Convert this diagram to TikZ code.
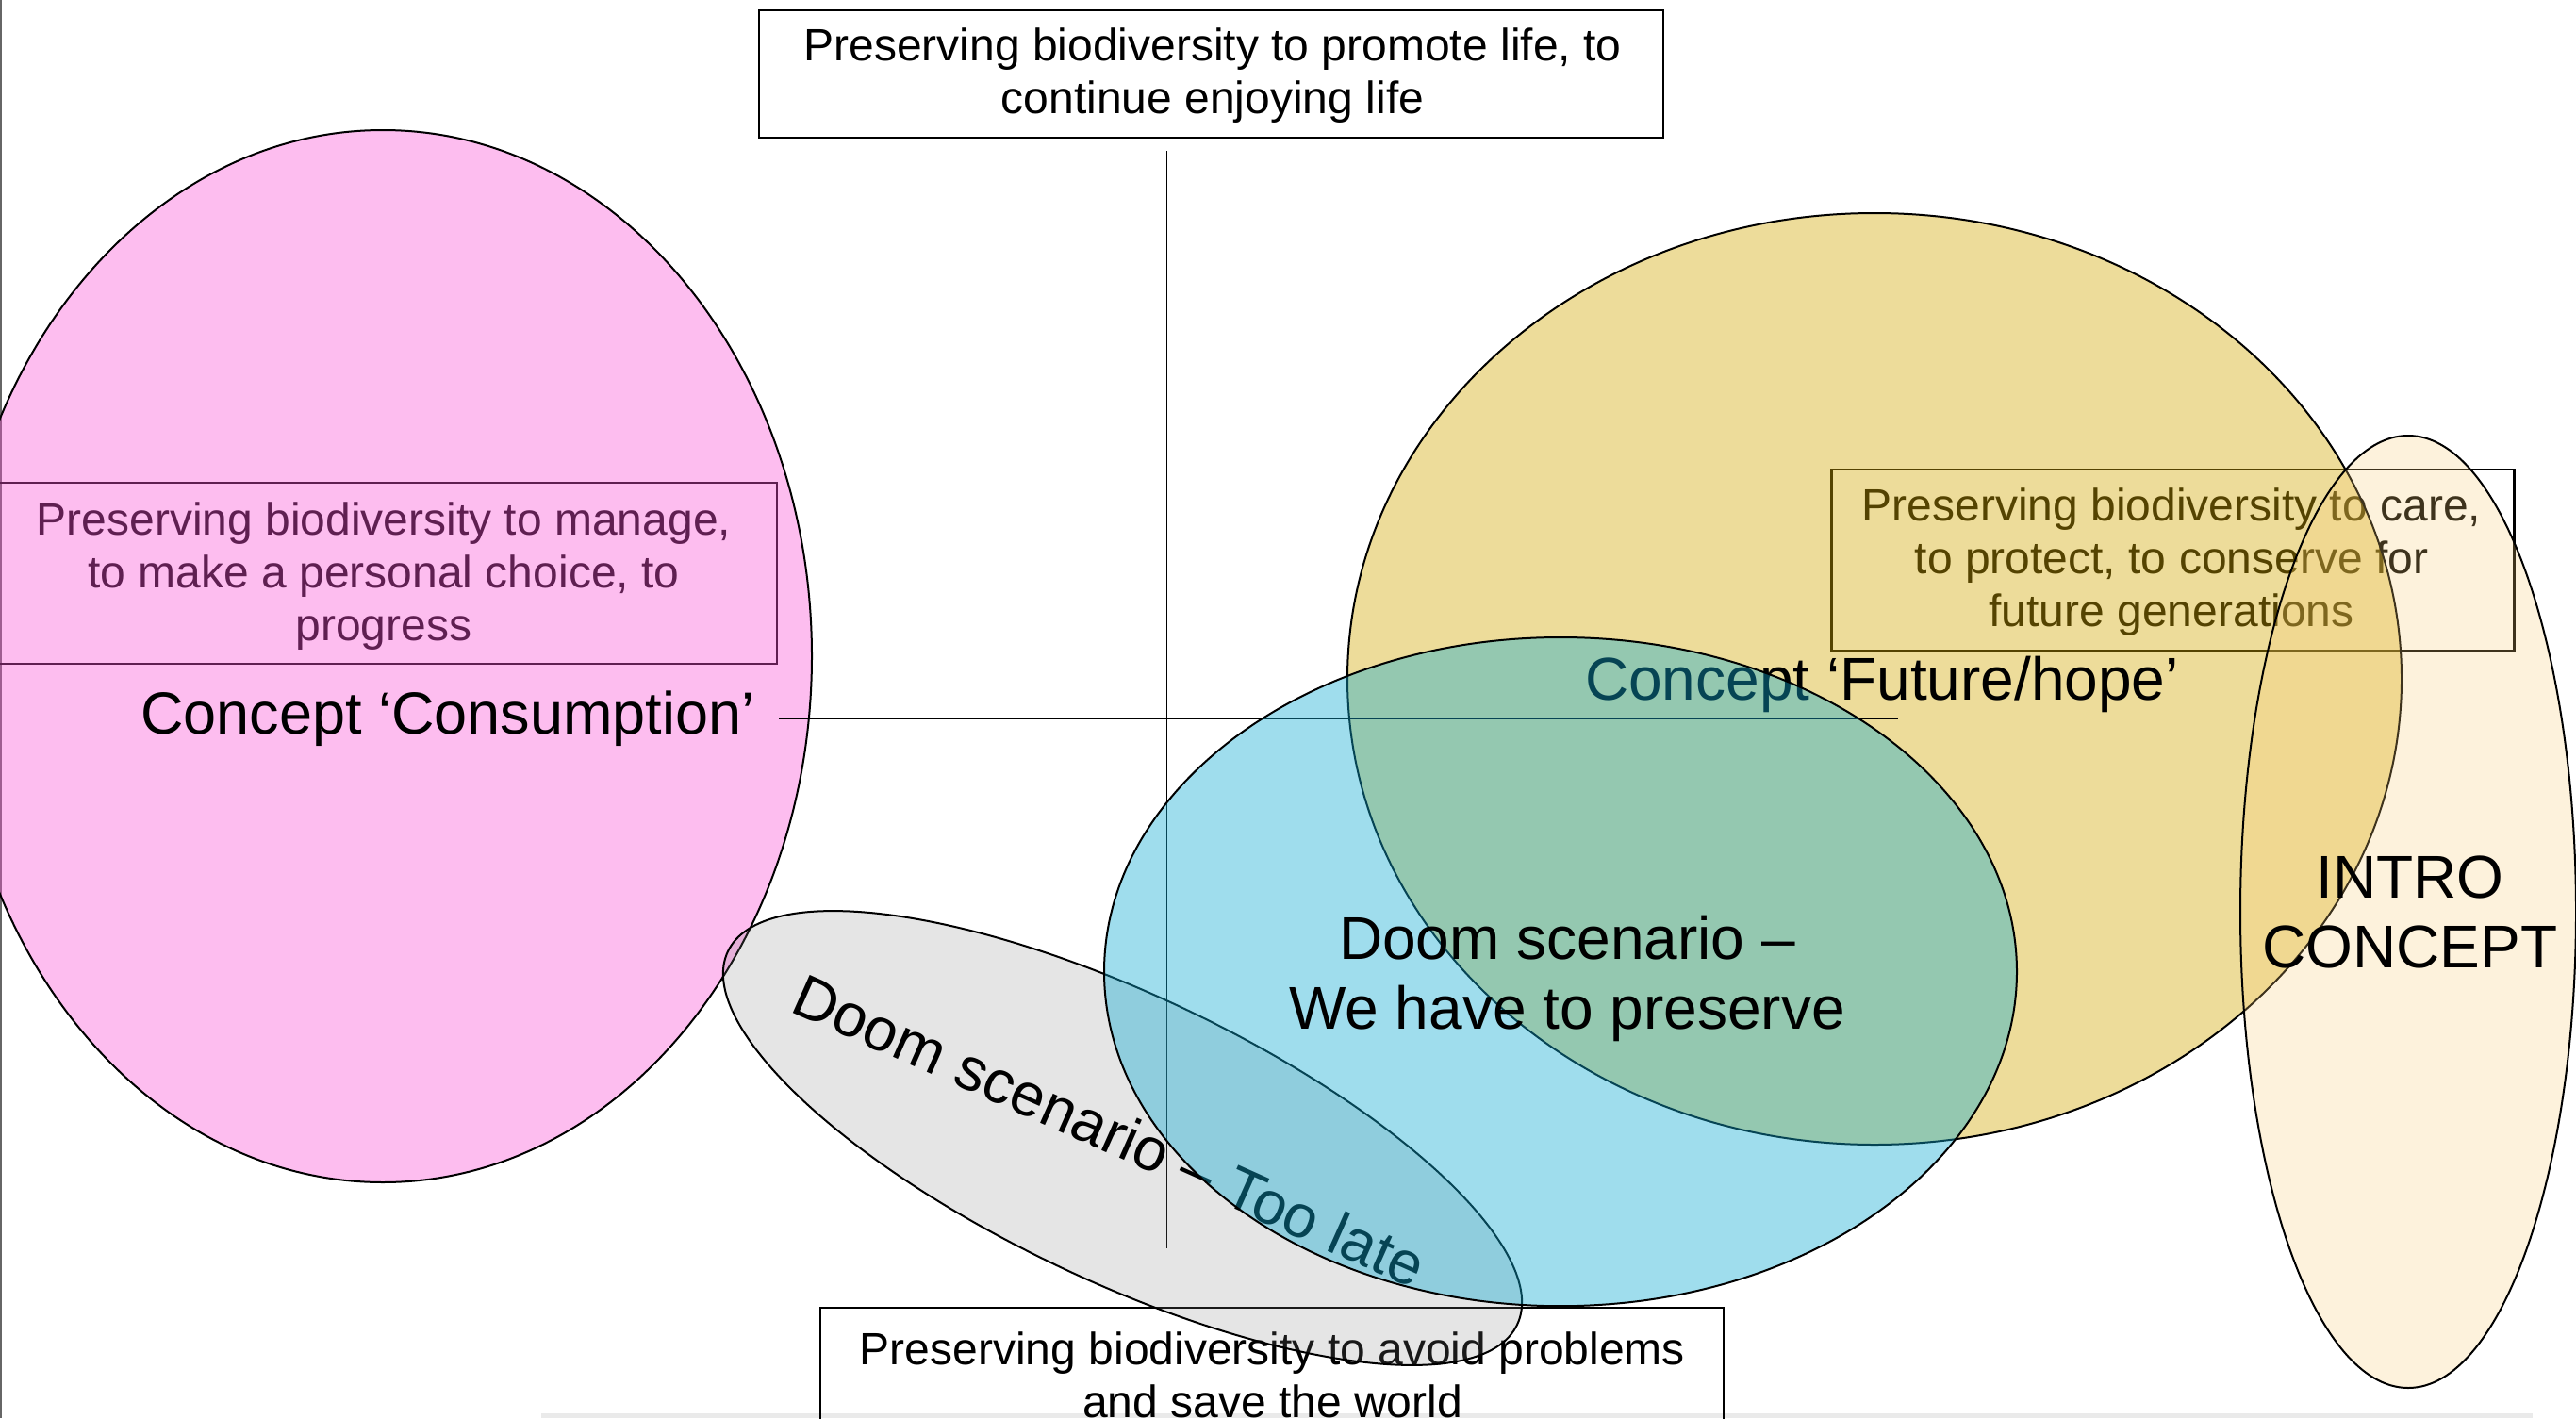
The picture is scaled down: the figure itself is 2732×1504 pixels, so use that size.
\documentclass[tikz,border=0pt]{standalone}
\usepackage{fontspec}
\setmainfont{Liberation Sans}
\definecolor{pinkA}{RGB}{250,82,215}
\definecolor{goldA}{RGB}{212,168,3}
\definecolor{creamA}{RGB}{251,207,119}
\definecolor{blueA}{RGB}{15,170,210}
\definecolor{grayA}{RGB}{128,128,128}
\definecolor{edgegray}{RGB}{234,234,234}
\begin{document}
\begin{tikzpicture}[x=1pt,y=-1pt,
  every node/.style={inner sep=0pt, outer sep=0pt},
  smalltxt/.style={font=\fontsize{48}{56}\selectfont, align=center},
  bigtxt/.style={font=\fontsize{64}{74}\selectfont, align=center},
  boxframe/.style={draw=black, line width=2.2pt},
  blob/.style={draw=black, line width=2pt},
  guide/.style={draw=black, line width=1.8pt}]
\useasboundingbox (0,0) rectangle (2732,1504);
\fill[white] (0,0) rectangle (2732,1504);
% slide edges
\fill[edgegray] (574,1499) rectangle (2686,1504);
\draw[black!60, line width=2.5pt] (1,0) -- (1,1504);

% pink box (under the pink ellipse)
\node[boxframe, minimum width=829pt, minimum height=192pt] (pbox) at (409.5,608) {};
\node[smalltxt] (ptext) at (407,611) {Preserving biodiversity to manage,\\to make a personal choice, to\\progress};

% pink ellipse
\path[blob, fill=pinkA, fill opacity=0.38] (406,696) ellipse [x radius=455pt, y radius=558pt];
\node[bigtxt, font=\fontsize{63}{74}\selectfont, anchor=base] (cons) at (475,778) {Concept ‘Consumption’};

% top box
\node[boxframe, minimum width=959pt, minimum height=135pt] (tbox) at (1284.5,78.5) {};
\node[smalltxt] (ttext) at (1286,80.5) {Preserving biodiversity to promote life, to\\continue enjoying life};

% care box (under gold and intro ellipses)
\node[boxframe, minimum width=724pt, minimum height=192pt] (cbox) at (2304.5,594) {};
\node[smalltxt] (ctext) at (2303,596) {Preserving biodiversity to care,\\to protect, to conserve for\\future generations};

% gold ellipse
\path[blob, fill=goldA, fill opacity=0.4] (1988,720) ellipse [x radius=559pt, y radius=494pt];
% intro ellipse
\path[blob, fill=creamA, fill opacity=0.25] (2554,967) ellipse [x radius=178pt, y radius=505pt];

\node[bigtxt, anchor=base] (fut) at (1996,742) {Concept ‘Future/hope’};

% guide lines
\coordinate (hA) at (826,762.5);
\coordinate (hB) at (2012.5,762.5);
\coordinate (vA) at (1237.5,160);
\coordinate (vB) at (1237.5,1324);
\draw[guide] (hA) -- (hB);
\draw[guide, line width=1.5pt] (vA) -- (vB);

% bottom box
\node[boxframe, minimum width=958pt, minimum height=160pt, anchor=north] (bbox) at (1349,1387) {};
\node[smalltxt] (btext) at (1349.5,1458.5) {Preserving biodiversity to avoid problems\\and save the world};

% gray ellipse
\path[blob, fill=grayA, fill opacity=0.2, rotate around={-25.3:(1190.5,1207)}] (1190.5,1207) ellipse [x radius=463pt, y radius=152pt];
\node[bigtxt, anchor=base west, rotate=-24] (late) at (836,1072) {Doom scenario – Too late};

% blue ellipse
\path[blob, fill=blueA, fill opacity=0.4] (1655,1030.6) ellipse [x radius=484pt, y radius=354.6pt];

\node[bigtxt] (doom) at (1662,1038) {Doom scenario –\\We have to preserve};
\node[bigtxt] (intro) at (2556,967.5) {INTRO\\CONCEPT};
\end{tikzpicture}
\end{document}
